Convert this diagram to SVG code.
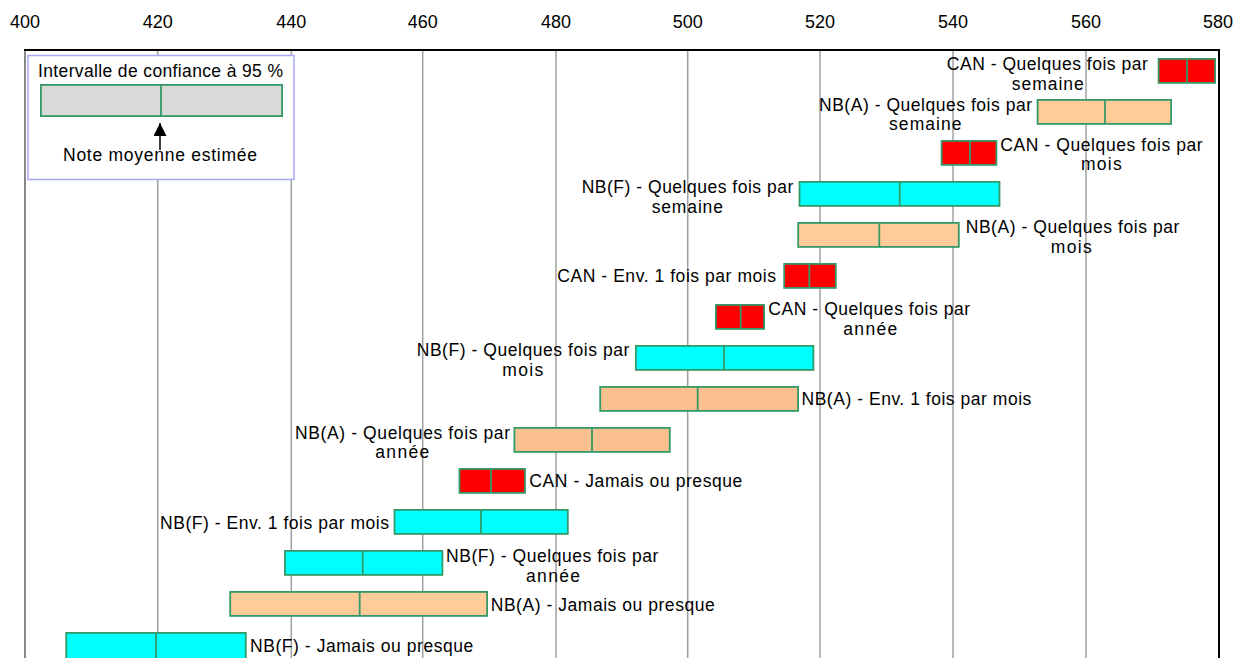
<svg xmlns="http://www.w3.org/2000/svg" width="1238" height="658" viewBox="0 0 1238 658">
<style>
.lbl{font-family:"Liberation Sans",Arial,sans-serif;font-size:17.5px;fill:#000}
.ax{font-family:"Liberation Sans",Arial,sans-serif;font-size:18px;fill:#000;text-anchor:middle}
.m{text-anchor:middle}
.grid{stroke:#a0a0a0;stroke-width:1.5;fill:none}
.bar{stroke:#339966;stroke-width:1.8}
.mid{stroke:#339966;stroke-width:1.8}
.red{fill:#ff0000}
.cyan{fill:#00ffff}
.pch{fill:#ffcc99}
.pch2{fill:#fac090}
</style>
<defs>
<marker id="arrow" viewBox="0 0 10 10" refX="10" refY="5" markerWidth="13" markerHeight="13" markerUnits="userSpaceOnUse" orient="auto">
<path d="M0,0 L10,5 L0,10 Z" fill="#000"/>
</marker>
</defs>
<rect x="0" y="0" width="1238" height="658" fill="#fff"/>
<g id="axis">
<text class="ax" x="25" y="28">400</text>
<text class="ax" x="157.7" y="28">420</text>
<text class="ax" x="291.3" y="28">440</text>
<text class="ax" x="422.7" y="28">460</text>
<text class="ax" x="556" y="28">480</text>
<text class="ax" x="687.7" y="28">500</text>
<text class="ax" x="820" y="28">520</text>
<text class="ax" x="953" y="28">540</text>
<text class="ax" x="1086" y="28">560</text>
<text class="ax" x="1218" y="28">580</text>
<g class="grid">
<line x1="157.7" y1="50" x2="157.7" y2="658"/>
<line x1="291.3" y1="50" x2="291.3" y2="658"/>
<line x1="422.7" y1="50" x2="422.7" y2="658"/>
<line x1="556" y1="50" x2="556" y2="658"/>
<line x1="687.7" y1="50" x2="687.7" y2="658"/>
<line x1="820" y1="50" x2="820" y2="658"/>
<line x1="953" y1="50" x2="953" y2="658"/>
<line x1="1086" y1="50" x2="1086" y2="658"/>
</g>
<line x1="25" y1="50" x2="25" y2="658" stroke="#888" stroke-width="2"/>
<line x1="24" y1="50" x2="1220" y2="50" stroke="#000" stroke-width="2"/>
<line x1="1219" y1="50" x2="1219" y2="658" stroke="#000" stroke-width="2"/>
</g>
<g id="legend">
<rect x="28" y="55.5" width="266" height="124" fill="#fff" stroke="#a8a8f8" stroke-width="1.5"/>
<text class="lbl" x="38" y="77" textLength="245" lengthAdjust="spacing">Intervalle de confiance à 95 %</text>
<rect class="bar" x="40.9" y="84.9" width="241.2" height="31.2" fill="#d9d9d9"/>
<line class="mid" x1="161" y1="84.9" x2="161" y2="116.1"/>
<text class="lbl" x="63" y="160.5" textLength="194" lengthAdjust="spacing">Note moyenne estimée</text>
</g>
<g id="connectors">
<line x1="160" y1="150" x2="160" y2="123" stroke="#000" stroke-width="1.5" marker-end="url(#arrow)"/>
</g>
<g id="n1">
<rect class="bar red" x="1158.6" y="58.9" width="56.5" height="24" />
<line class="mid" x1="1187" y1="58.9" x2="1187" y2="82.9"/>
<text class="lbl m" x="1047.3" y="70" textLength="201" lengthAdjust="spacing">CAN - Quelques fois par</text>
<text class="lbl m" x="1047.8" y="90" textLength="72" lengthAdjust="spacing">semaine</text>
</g>
<g id="n2">
<rect class="bar pch" x="1037.6" y="99.9" width="133.5" height="24" />
<line class="mid" x1="1105" y1="99.9" x2="1105" y2="123.9"/>
<text class="lbl m" x="925.5" y="111" textLength="213" lengthAdjust="spacing">NB(A) - Quelques fois par</text>
<text class="lbl m" x="925.3" y="129.5" textLength="72.5" lengthAdjust="spacing">semaine</text>
</g>
<g id="n3">
<rect class="bar red" x="941.6" y="140.9" width="54.8" height="24" />
<line class="mid" x1="970" y1="140.9" x2="970" y2="164.9"/>
<text class="lbl m" x="1101.5" y="151" textLength="202.4" lengthAdjust="spacing">CAN - Quelques fois par</text>
<text class="lbl m" x="1101.3" y="170" textLength="40.7" lengthAdjust="spacing">mois</text>
</g>
<g id="n4">
<rect class="bar cyan" x="799.5" y="181.9" width="200" height="24" />
<line class="mid" x1="899.7" y1="181.9" x2="899.7" y2="205.9"/>
<text class="lbl m" x="687.5" y="193" textLength="211.6" lengthAdjust="spacing">NB(F) - Quelques fois par</text>
<text class="lbl m" x="687.3" y="212.5" textLength="71.3" lengthAdjust="spacing">semaine</text>
</g>
<g id="n5">
<rect class="bar pch" x="798.2" y="222.9" width="160.6" height="24" />
<line class="mid" x1="879.3" y1="222.9" x2="879.3" y2="246.9"/>
<text class="lbl m" x="1072.5" y="233" textLength="213.6" lengthAdjust="spacing">NB(A) - Quelques fois par</text>
<text class="lbl m" x="1071.2" y="252.5" textLength="41" lengthAdjust="spacing">mois</text>
</g>
<g id="n6">
<rect class="bar red" x="784.2" y="263.9" width="51.6" height="24" />
<line class="mid" x1="809.3" y1="263.9" x2="809.3" y2="287.9"/>
<text class="lbl" x="557.3" y="282" textLength="218.7" lengthAdjust="spacing">CAN - Env. 1 fois par mois</text>
</g>
<g id="n7">
<rect class="bar red" x="715.9" y="304.9" width="48.2" height="24" />
<line class="mid" x1="740.7" y1="304.9" x2="740.7" y2="328.9"/>
<text class="lbl m" x="869.2" y="315" textLength="201.7" lengthAdjust="spacing">CAN - Quelques fois par</text>
<text class="lbl m" x="870.3" y="334.5" textLength="54" lengthAdjust="spacing">année</text>
</g>
<g id="n8">
<rect class="bar cyan" x="635.9" y="345.9" width="177.5" height="24" />
<line class="mid" x1="724" y1="345.9" x2="724" y2="369.9"/>
<text class="lbl m" x="523" y="356" textLength="212.6" lengthAdjust="spacing">NB(F) - Quelques fois par</text>
<text class="lbl m" x="522.8" y="375.5" textLength="41" lengthAdjust="spacing">mois</text>
</g>
<g id="n9">
<rect class="bar pch2" x="600.2" y="386.9" width="197.9" height="24" />
<line class="mid" x1="697.7" y1="386.9" x2="697.7" y2="410.9"/>
<text class="lbl" x="801.5" y="405" textLength="229.8" lengthAdjust="spacing">NB(A) - Env. 1 fois par mois</text>
</g>
<g id="n10">
<rect class="bar pch2" x="514.4" y="427.9" width="155.4" height="24" />
<line class="mid" x1="592" y1="427.9" x2="592" y2="451.9"/>
<text class="lbl m" x="402.5" y="438.5" textLength="215" lengthAdjust="spacing">NB(A) - Quelques fois par</text>
<text class="lbl m" x="402.3" y="458" textLength="54" lengthAdjust="spacing">année</text>
</g>
<g id="n11">
<rect class="bar red" x="459.5" y="468.9" width="65.5" height="24" />
<line class="mid" x1="491" y1="468.9" x2="491" y2="492.9"/>
<text class="lbl" x="529.3" y="487" textLength="213" lengthAdjust="spacing">CAN - Jamais ou presque</text>
</g>
<g id="n12">
<rect class="bar cyan" x="394.5" y="509.9" width="173.3" height="24" />
<line class="mid" x1="481" y1="509.9" x2="481" y2="533.9"/>
<text class="lbl" x="160" y="528.5" textLength="229" lengthAdjust="spacing">NB(F) - Env. 1 fois par mois</text>
</g>
<g id="n13">
<rect class="bar cyan" x="284.9" y="550.9" width="157.5" height="24" />
<line class="mid" x1="362.7" y1="550.9" x2="362.7" y2="574.9"/>
<text class="lbl m" x="552.2" y="562" textLength="212.3" lengthAdjust="spacing">NB(F) - Quelques fois par</text>
<text class="lbl m" x="553" y="581.5" textLength="54" lengthAdjust="spacing">année</text>
</g>
<g id="n14">
<rect class="bar pch" x="230.2" y="591.9" width="256.9" height="24" />
<line class="mid" x1="359.7" y1="591.9" x2="359.7" y2="615.9"/>
<text class="lbl" x="490.7" y="610.5" textLength="224" lengthAdjust="spacing">NB(A) - Jamais ou presque</text>
</g>
<g id="n15">
<rect class="bar cyan" x="66.2" y="632.9" width="179.6" height="30" />
<line class="mid" x1="156" y1="632.9" x2="156" y2="662"/>
<text class="lbl" x="250" y="651.5" textLength="223.3" lengthAdjust="spacing">NB(F) - Jamais ou presque</text>
</g>
</svg>
